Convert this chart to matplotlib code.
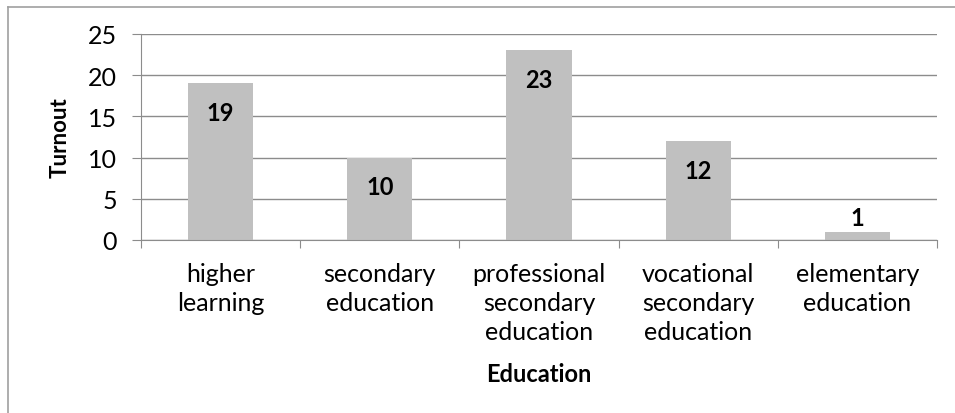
import matplotlib
matplotlib.use("Agg")
import matplotlib.pyplot as plt
from matplotlib.lines import Line2D
import numpy as np

# data
categories = ["higher\nlearning", "secondary\neducation",
              "professional\nsecondary\neducation",
              "vocational\nsecondary\neducation", "elementary\neducation"]
turnout = [19, 10, 23, 12, 1]
y_ticks = [0, 5, 10, 15, 20, 25]

plt.rcParams['font.family'] = ['Lato', 'DejaVu Sans']
grid_col = '#8c8c8c'

fig = plt.figure(figsize=(9.55, 4.14), dpi=100)
ax = fig.add_axes([141/955, 1 - 241/414, (937 - 141)/955, (241 - 35)/414])

x = np.arange(len(categories))
ax.bar(x, turnout, width=0.41, color='#c0c0c0', zorder=2)

for xi, v in zip(x, turnout):
    off = -21 if v >= 5 else 10          # inside end, or above when too short
    ax.annotate(str(v), (xi, v), xytext=(0, off), textcoords='offset points',
                ha='center', va='center', fontsize=17, fontweight='bold')

ax.set_xlim(-0.5, len(categories) - 0.5)
ax.set_ylim(0, 25)
ax.set_yticks(y_ticks)
ax.tick_params(axis='y', length=6.5, color=grid_col, labelsize=18, pad=11)
ax.yaxis.grid(True, color=grid_col, linewidth=1, zorder=0)
ax.set_axisbelow(True)

# category labels between boundary ticks
ax.set_xticks(np.arange(len(categories) + 1) - 0.5)
ax.set_xticklabels([])
ax.tick_params(axis='x', length=6, color=grid_col)
ax.set_xticks(x, minor=True)
ax.set_xticklabels(categories, minor=True, fontsize=18, linespacing=1.3)
ax.tick_params(axis='x', which='minor', length=0, pad=16)

for s in ['top', 'right']:
    ax.spines[s].set_visible(False)
ax.spines['left'].set_color(grid_col)
ax.spines['bottom'].set_color(grid_col)

ax.set_ylabel("Turnout", fontsize=16, fontweight='bold', labelpad=12)
ax.set_xlabel("Education", fontsize=17, fontweight='bold', labelpad=14)

# outer chart frame
fig.add_artist(Line2D([8/955, 8/955], [0, 1 - 8/414], color='#a0a0a0', linewidth=1.2))
fig.add_artist(Line2D([8/955, 1], [1 - 8/414, 1 - 8/414], color='#a0a0a0', linewidth=1.2))

fig.savefig("out.png", dpi=100)
